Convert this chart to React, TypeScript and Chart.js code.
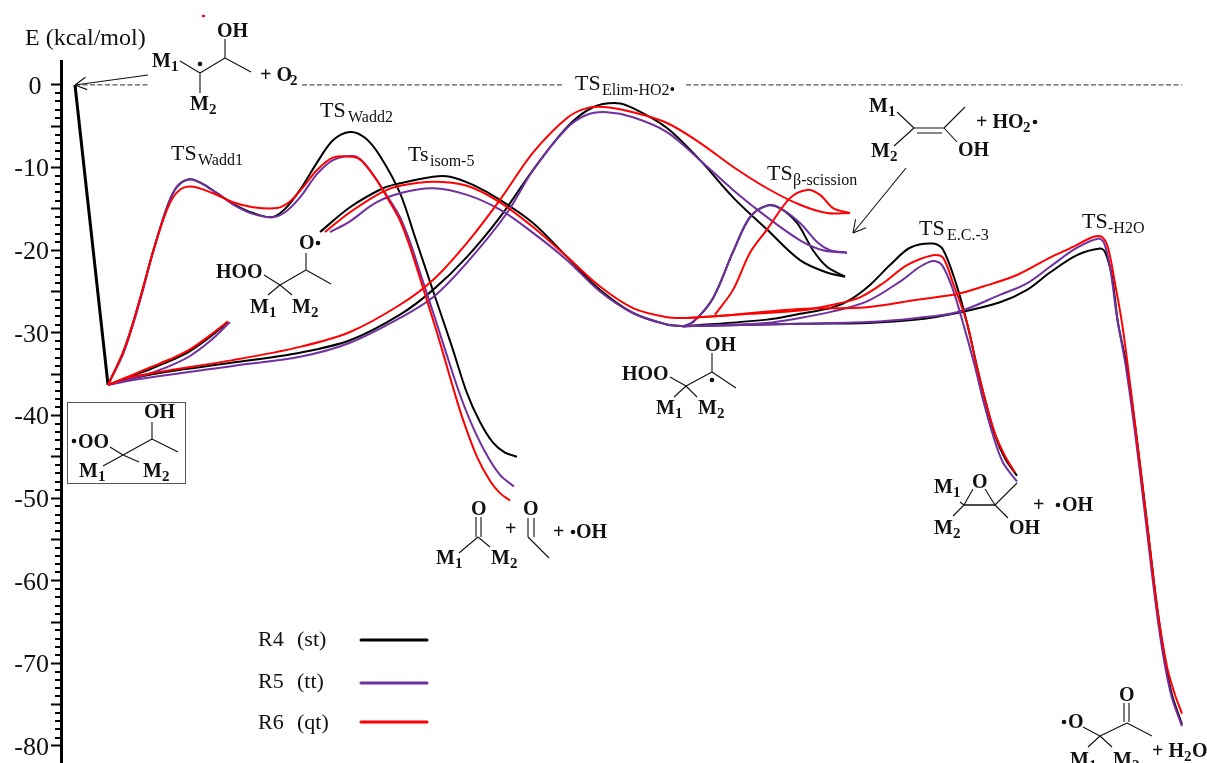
import React, { useEffect, useRef } from "react";
import { Chart, registerables } from "chart.js";

Chart.register(...registerables);

type P = [number, number | null];

// Reaction coordinate (x) and energy in kcal/mol (y)
const entryDrop: P[] = [[75, 0], [108, -36.3]];
const zeroLevel: P[] = [[75, 0], [150, 0], [200, null], [302, 0], [563, 0], [620, null], [686, 0], [1182, 0]];

const r4Wadd: P[] = [[108, -36.3], [123, -32.4], [133, -28.8], [143, -24.6], [153, -20.2], [167, -14.8], [177, -12.3], [190, -11.4], [203, -12], [217, -13.1], [235, -14.5], [253, -15.5], [272, -16], [285, -15], [300, -12.7], [317, -9.4], [333, -6.7], [350, -5.7], [365, -6.4], [380, -8.6], [400, -13.1], [415, -18.4], [433, -24.9], [452, -31.7], [467, -37.3], [480, -40.8], [493, -43.3], [505, -44.5], [517, -45]];
const r5Wadd: P[] = [[108, -36.3], [123, -32.6], [133, -29], [143, -24.8], [153, -20.2], [167, -14.8], [177, -12.3], [190, -11.4], [203, -12], [217, -13.1], [235, -14.6], [253, -15.6], [272, -16], [285, -15.4], [300, -13.6], [317, -10.8], [333, -9.1], [353, -8.6], [362, -9.2], [375, -11.2], [388, -13.6], [400, -16], [410, -19], [420, -22.7], [436, -28.6], [445, -32], [458, -36.8], [470, -40.6], [485, -44.4], [500, -47.2], [514, -48.6]];
const r6Wadd: P[] = [[108, -36.3], [123, -32.4], [133, -28.8], [143, -24.6], [153, -20.2], [167, -15.1], [177, -13], [190, -12.3], [213, -13.1], [233, -14.2], [253, -14.8], [277, -14.9], [290, -14.1], [303, -12.4], [317, -10.3], [333, -8.8], [353, -8.7], [362, -9.2], [375, -11.2], [388, -13.8], [400, -16.4], [410, -19.6], [420, -23.4], [433, -28.4], [442, -32], [452, -36.2], [463, -40.5], [477, -45], [490, -47.9], [500, -49.4], [510, -50.3]];

const r4IsomLow: P[] = [[108, -36.3], [130, -35.3], [150, -34.4], [170, -33.4], [190, -32.2], [210, -30.5], [228, -28.7]];
const r5IsomLow: P[] = [[108, -36.3], [130, -35.6], [150, -34.9], [170, -34], [190, -32.8], [210, -31], [230, -28.7]];
const r6IsomLow: P[] = [[108, -36.3], [130, -35.2], [150, -34.2], [170, -33.2], [190, -32], [210, -30.3], [228, -28.6]];

const r4IsomUp: P[] = [[320, -17.8], [350, -14.8], [383, -12.5], [400, -11.9], [433, -11.1], [450, -11.1], [473, -12.1], [500, -13.9], [533, -16.7], [567, -20.8], [600, -24.8], [633, -27.6], [667, -29], [683, -29.2]];
const r5IsomUp: P[] = [[330, -17.8], [350, -16.5], [375, -14.3], [400, -13.1], [433, -12.5], [467, -13.3], [500, -15.1], [533, -17.9], [567, -21.2], [600, -25], [633, -27.6], [667, -29], [683, -29.2]];
const r6IsomUp: P[] = [[325, -17.8], [350, -15.4], [383, -12.9], [400, -12.2], [433, -11.7], [467, -12.2], [500, -14.2], [533, -17.2], [567, -20.8], [600, -24.4], [633, -27], [667, -28.1], [687, -28.2]];

const r4Elim: P[] = [[108, -36.3], [133, -35.5], [167, -34.7], [233, -33.6], [300, -32.4], [350, -30.9], [400, -27.8], [433, -24.8], [467, -20.8], [500, -16], [533, -10.3], [567, -5.1], [593, -2.7], [617, -2.2], [633, -2.8], [667, -5.2], [700, -9.1], [733, -13.6], [767, -17.5], [800, -21.2], [827, -22.7], [845, -23.2]];
const r5Elim: P[] = [[108, -36.3], [133, -35.7], [233, -34], [300, -32.9], [350, -31.2], [400, -28.2], [433, -25.7], [467, -21.5], [507, -15.5], [533, -10.3], [567, -5.2], [587, -3.6], [607, -3.3], [633, -3.9], [667, -5.7], [700, -9.1], [733, -12.7], [767, -16], [800, -18.8], [823, -20], [847, -20.3]];
const r6Elim: P[] = [[108, -36.3], [133, -35.3], [233, -33.3], [300, -31.7], [350, -29.9], [400, -26.6], [433, -23.6], [467, -19.1], [500, -13.9], [533, -8.2], [567, -4], [587, -2.8], [607, -2.7], [633, -3.3], [667, -4.6], [700, -7], [733, -9.9], [767, -12.5], [800, -14.5], [827, -15.5], [850, -15.5]];

const r4Beta: P[] = [[683, -29.2], [693, -28.7], [713, -25.8], [733, -20.2], [750, -16], [767, -14.6], [780, -14.9], [797, -16.7], [813, -20], [827, -22], [845, -23.2]];
const r5Beta: P[] = [[683, -29.2], [693, -28.7], [713, -25.8], [733, -20.2], [750, -16], [767, -14.6], [780, -14.9], [800, -16.7], [817, -19], [830, -20], [847, -20.3]];
const r6Beta: P[] = [[715, -27.8], [733, -24.8], [750, -20.3], [767, -17.5], [790, -13.7], [807, -12.7], [820, -13.3], [833, -14.9], [850, -15.5]];

const r4Ec: P[] = [[683, -29.2], [767, -28.4], [800, -27.7], [833, -26.9], [850, -26], [870, -24.2], [890, -21.8], [910, -19.7], [933, -19.2], [943, -19.9], [957, -24.4], [967, -28.8], [977, -34.1], [985, -38.1], [995, -42.4], [1005, -45.2], [1017, -47.3]];
const r5Ec: P[] = [[683, -29.2], [767, -28.8], [800, -28.2], [833, -27.4], [867, -26.2], [900, -23.8], [920, -22], [933, -21.3], [942, -21.8], [953, -24.8], [963, -28.8], [975, -34.1], [983, -38.1], [993, -42.4], [1003, -45.7], [1017, -48]];
const r6Ec: P[] = [[687, -28.2], [750, -27.7], [800, -27.3], [833, -26.6], [860, -25.7], [883, -24], [907, -21.8], [933, -20.6], [943, -20.9], [953, -24], [967, -28.8], [977, -34.2], [985, -38], [995, -42.2], [1005, -44.9], [1015, -46.9]];

const r4H2o: P[] = [[683, -29.2], [800, -28.9], [867, -28.8], [917, -28.4], [957, -27.6], [1000, -26.3], [1027, -24.8], [1050, -22.7], [1077, -20.6], [1100, -19.8], [1105, -20.2], [1112, -23.2], [1118, -28.8], [1127, -34.2], [1137, -43], [1147, -53], [1157, -63.1], [1165, -69.6], [1172, -73.8], [1182, -77.4]];
const r5H2o: P[] = [[683, -29.2], [800, -28.9], [867, -28.7], [917, -28.2], [957, -27.5], [1000, -25.4], [1027, -24], [1050, -22], [1077, -19.7], [1098, -18.6], [1104, -19.1], [1110, -22], [1117, -28.1], [1126, -34.2], [1136, -43], [1146, -53], [1156, -63.1], [1164, -69.6], [1172, -74.2], [1182, -77.6]];
const r6H2o: P[] = [[687, -28.2], [715, -28], [800, -27.1], [867, -26.9], [917, -26], [957, -25.3], [983, -24.4], [1017, -23], [1050, -20.9], [1073, -19.6], [1093, -18.4], [1102, -18.4], [1108, -19.7], [1115, -24], [1122, -28.8], [1128, -34.2], [1137, -43], [1147, -53], [1157, -63.1], [1167, -70.4], [1175, -73.8], [1182, -76.1]];

const seriesLabels = ["R4", "R5", "R6"];
const seriesTags = ["(st)", "(tt)", "(qt)"];
const BLACK = "#000000";
const PURPLE = "#7030a0";
const RED = "#ff0000";
const SERIF = '"Liberation Serif", serif';

const curve = (pairs: P[], color: string, order: number) => ({
  data: pairs.map(([x, y]) => ({ x, y })),
  borderColor: color,
  borderWidth: 2,
  pointRadius: 0,
  tension: 0.33,
  order,
});

function decorate(chart: any) {
  const c: CanvasRenderingContext2D = chart.ctx;
  const yScale = chart.scales.y;
  c.save();
  c.textBaseline = "alphabetic";
  c.textAlign = "left";

  // minor ticks
  c.strokeStyle = "#000";
  c.lineWidth = 2;
  for (let v = -80; v <= 0; v++) {
    if (v % 5 === 0) continue;
    const p = Math.round(yScale.getPixelForValue(v));
    c.beginPath();
    c.moveTo(55, p);
    c.lineTo(60, p);
    c.stroke();
  }

  const seg = (list: number[][], w = 1.1) => {
    c.strokeStyle = "#111";
    c.lineWidth = w;
    c.beginPath();
    for (const [a, b, d, e] of list) {
      c.moveTo(a, b);
      c.lineTo(d, e);
    }
    c.stroke();
  };
  const t = (s: string, x: number, y: number, font: string) => {
    c.font = font;
    c.fillStyle = "#111";
    c.fillText(s, x, y);
  };
  const bold = (s: string, x: number, y: number) => t(s, x, y, `bold 20px ${SERIF}`);
  const sub = (s: string, x: number, y: number) => t(s, x, y + 4, `bold 15px ${SERIF}`);
  const M = (n: string, x: number, y: number) => {
    bold("M", x, y);
    sub(n, x + 19, y);
  };
  const dot = (x: number, y: number, r = 2.3) => {
    c.fillStyle = "#111";
    c.beginPath();
    c.arc(x, y, r, 0, Math.PI * 2);
    c.fill();
  };
  const TS = (main: string, x: number, y: number, s: string, sx: number) => {
    t(main, x, y, `22px ${SERIF}`);
    t(s, sx, y + 5, `16px ${SERIF}`);
  };
  const arrow = (x0: number, y0: number, x1: number, y1: number, size: number) => {
    seg([[x0, y0, x1, y1]]);
    const a = Math.atan2(y0 - y1, x0 - x1);
    seg([
      [x1, y1, x1 + size * Math.cos(a + 0.5), y1 + size * Math.sin(a + 0.5)],
      [x1, y1, x1 + size * Math.cos(a - 0.5), y1 + size * Math.sin(a - 0.5)],
    ]);
  };

  t("E (kcal/mol)", 25, 45, `24px ${SERIF}`);
  c.fillStyle = RED;
  c.fillRect(202, 15, 3, 2);

  TS("TS", 171, 160, "Wadd1", 198);
  TS("TS", 320, 117, "Wadd2", 348);
  TS("Ts", 408, 161, "isom-5", 430);
  TS("TS", 575, 90, "Elim-HO2•", 602);
  TS("TS", 767, 180, "β-scission", 793);
  TS("TS", 919, 235, "E.C.-3", 947);
  TS("TS", 1082, 228, "-H2O", 1108);

  arrow(148, 75, 75, 85, 13);
  arrow(906, 168, 853, 233, 14);

  // reactant
  bold("OH", 217, 37);
  M("1", 152, 67);
  M("2", 190, 110);
  seg([[180, 61, 200, 73], [200, 73, 225, 58], [225, 58, 225, 39], [225, 58, 251, 72], [200, 73, 200, 93]]);
  dot(200, 64);
  bold("+ O", 260, 81);
  sub("2", 290, 81);

  // QOOH with O•
  bold("O", 299, 249);
  dot(318, 243);
  bold("HOO", 216, 278);
  M("1", 250, 313);
  M("2", 292, 313);
  seg([[306, 253, 306, 270], [306, 270, 331, 284], [306, 270, 280, 285], [280, 285, 264, 275], [280, 285, 268, 295], [280, 285, 292, 295]]);

  // boxed well
  c.strokeStyle = "#555";
  c.lineWidth = 1;
  c.strokeRect(67.5, 402.5, 118, 81);
  dot(74, 441);
  bold("OO", 78, 448);
  bold("OH", 144, 418);
  M("1", 79, 477);
  M("2", 143, 477);
  seg([[152, 422, 152, 439], [152, 439, 178, 452], [152, 439, 123, 455], [123, 455, 110, 447], [123, 455, 103, 466], [123, 455, 139, 462]]);

  // products 1
  bold("O", 471, 515);
  bold("O", 523, 515);
  seg([[476, 517, 476, 537], [481, 517, 481, 537], [478, 537, 459, 553], [478, 537, 490, 547], [528, 518, 528, 537], [534, 518, 534, 537], [528, 537, 549, 558]]);
  M("1", 436, 564);
  M("2", 491, 564);
  bold("+", 505, 535);
  bold("+", 553, 538);
  dot(573, 532);
  bold("OH", 576, 538);

  // well 2
  bold("OH", 705, 351);
  bold("HOO", 622, 380);
  M("1", 656, 414);
  M("2", 698, 414);
  seg([[712, 353, 712, 372], [712, 372, 736, 388], [712, 372, 686, 386], [686, 386, 670, 377], [686, 386, 674, 397], [686, 386, 697, 397]]);
  dot(712, 380);

  // alkene
  M("1", 869, 112);
  M("2", 871, 157);
  bold("OH", 958, 156);
  seg([[897, 112, 914, 128], [914, 128, 944, 128], [917, 133, 942, 133], [944, 128, 965, 107], [944, 128, 957, 142], [914, 128, 894, 146]]);
  bold("+ HO", 976, 128);
  sub("2", 1023, 128);
  dot(1035, 122);

  // epoxide
  M("1", 934, 493);
  M("2", 934, 534);
  bold("O", 972, 488);
  bold("OH", 1009, 534);
  seg([[964, 505, 995, 505]], 1.5);
  seg([[964, 505, 973, 489], [995, 505, 985, 489], [964, 505, 960, 502], [964, 505, 953, 516], [995, 505, 1017, 483], [995, 505, 1008, 518]]);
  bold("+", 1033, 511);
  dot(1058, 505);
  bold("OH", 1062, 511);

  // last product
  bold("O", 1119, 701);
  seg([[1124, 703, 1124, 722], [1129, 703, 1129, 722], [1127, 723, 1152, 736], [1127, 723, 1100, 736], [1100, 736, 1083, 727], [1100, 736, 1088, 747], [1100, 736, 1112, 747]]);
  dot(1064, 722);
  bold("O", 1068, 728);
  M("1", 1070, 766);
  M("2", 1113, 766);
  bold("+ H", 1152, 757);
  sub("2", 1184, 757);
  bold("O", 1192, 757);

  // legend
  const legendY = [646, 688, 729];
  const lineY = [640, 683, 722];
  const colors = [BLACK, PURPLE, RED];
  seriesLabels.forEach((s, i) => {
    t(s, 258, legendY[i], `22px ${SERIF}`);
    t(seriesTags[i], 297, legendY[i], `22px ${SERIF}`);
    c.strokeStyle = colors[i];
    c.lineWidth = 3;
    c.lineCap = "round";
    c.beginPath();
    c.moveTo(361, lineY[i]);
    c.lineTo(427, lineY[i]);
    c.stroke();
  });
  c.restore();
}

export default function App() {
  const ref = useRef<HTMLCanvasElement | null>(null);
  useEffect(() => {
    if (!ref.current) return;
    const chart = new Chart(ref.current, {
      type: "line",
      data: {
        datasets: [
          { ...curve(entryDrop, BLACK, 4), borderWidth: 3, tension: 0 },
          { ...curve(zeroLevel, "#555555", 5), borderWidth: 1.2, borderDash: [5, 2.5], tension: 0, spanGaps: false },
          curve(r4Wadd, BLACK, 3), curve(r4IsomLow, BLACK, 3), curve(r4IsomUp, BLACK, 3), curve(r4Elim, BLACK, 3), curve(r4Beta, BLACK, 3), curve(r4Ec, BLACK, 3), curve(r4H2o, BLACK, 3),
          curve(r5Wadd, PURPLE, 2), curve(r5IsomLow, PURPLE, 2), curve(r5IsomUp, PURPLE, 2), curve(r5Elim, PURPLE, 2), curve(r5Beta, PURPLE, 2), curve(r5Ec, PURPLE, 2), curve(r5H2o, PURPLE, 2),
          curve(r6Wadd, RED, 1), curve(r6IsomLow, RED, 1), curve(r6IsomUp, RED, 1), curve(r6Elim, RED, 1), curve(r6Beta, RED, 1), curve(r6Ec, RED, 1), curve(r6H2o, RED, 1),
        ] as any,
      },
      options: {
        responsive: false,
        animation: false,
        layout: { padding: { top: 61, left: 0, right: 0, bottom: 0 } },
        plugins: { legend: { display: false }, tooltip: { enabled: false } },
        events: [],
        scales: {
          x: { type: "linear", min: 61, max: 1207, display: false },
          y: {
            type: "linear",
            min: -82.06,
            max: 2.9,
            afterFit: (s: any) => { s.width = 61; s.paddingTop = 0; s.paddingBottom = 0; },
            afterBuildTicks: (s: any) => { s.ticks = s.ticks.filter((k: any) => Number.isInteger(k.value) && k.value >= -80 && k.value <= 0); },
            border: { display: true, color: "#000", width: 3 },
            grid: {
              drawOnChartArea: false,
              drawTicks: true,
              tickLength: 10,
              tickWidth: 2,
              tickColor: (ctx: any) => (ctx.tick && ctx.tick.value % 5 === 0 ? "#000" : "rgba(0,0,0,0)"),
            },
            ticks: {
              stepSize: 1,
              autoSkip: false,
              maxRotation: 0,
              padding: 2,
              crossAlign: "center",
              labelOffset: 2,
              color: "#111",
              font: { family: SERIF, size: 26 },
              callback: (v: any) => (Number(v) === 0 ? " 0" : Number(v) % 10 === 0 ? String(v) : ""),
            },
          },
        },
      } as any,
      plugins: [{ id: "decor", afterDraw: decorate }],
    });
    return () => chart.destroy();
  }, []);
  return (
    <canvas
      ref={ref}
      width={1207}
      height={763}
      style={{ position: "absolute", left: 0, top: 0, display: "block", background: "#fff" }}
    />
  );
}
